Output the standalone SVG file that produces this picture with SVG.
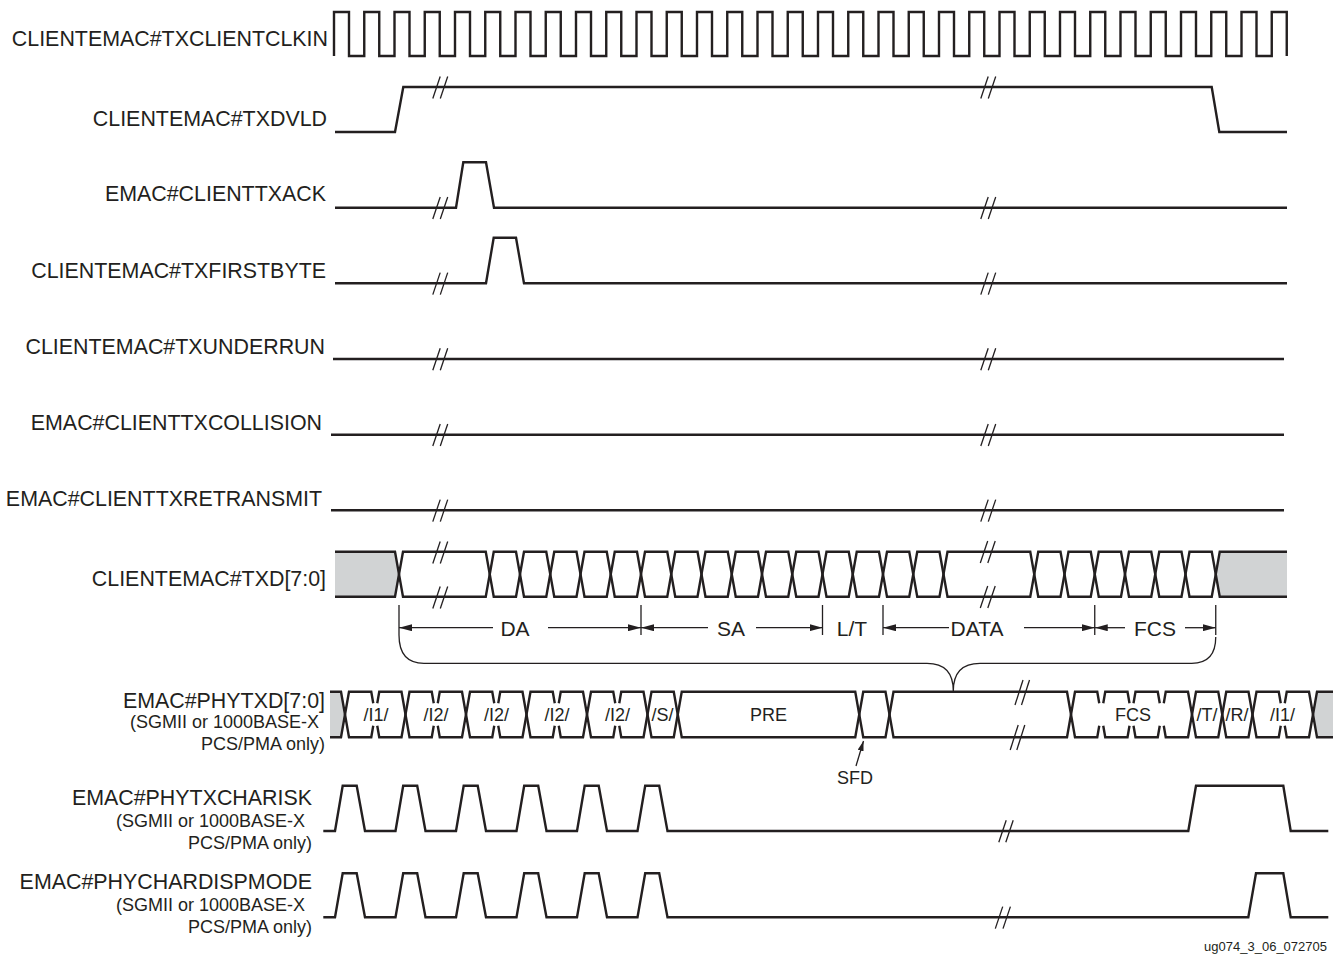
<svg xmlns="http://www.w3.org/2000/svg" width="1335" height="960" viewBox="0 0 1335 960">
<style>
.w{fill:none;stroke:#231f20;stroke-width:2.4}
.brk{fill:none;stroke:#231f20;stroke-width:1.3}
.thin{fill:none;stroke:#231f20;stroke-width:1.3}
.gray{fill:#d1d3d4;stroke:none}
.lbl{font-family:"Liberation Sans",Arial,sans-serif;font-size:21.4px;fill:#231f20;text-anchor:end}
.sub{font-family:"Liberation Sans",Arial,sans-serif;font-size:18px;fill:#231f20;text-anchor:end}
.cell{font-family:"Liberation Sans",Arial,sans-serif;font-size:18px;fill:#231f20;text-anchor:middle}
.dim{font-family:"Liberation Sans",Arial,sans-serif;font-size:21px;fill:#231f20;text-anchor:middle}
.foot{font-family:"Liberation Sans",Arial,sans-serif;font-size:13px;fill:#231f20;text-anchor:end}
</style>
<defs>
<marker id="ah" viewBox="0 0 13 7" refX="13" refY="3.5" markerWidth="13" markerHeight="7" markerUnits="userSpaceOnUse" orient="auto"><path d="M0,0 L13,3.5 L0,7 z" fill="#231f20"/></marker>
<marker id="ahs" viewBox="0 0 10 6" refX="10" refY="3" markerWidth="10" markerHeight="6" markerUnits="userSpaceOnUse" orient="auto"><path d="M0,0 L10,3 L0,6 z" fill="#231f20"/></marker>
<path id="sl" d="M-3.7,11 L3.7,-11"/>
<path id="slL" d="M-4,12.5 L4,-12.5"/>
</defs>

<g id="clk">
<text class="lbl" x="328" y="45.5">CLIENTEMAC#TXCLIENTCLKIN</text>
<path class="w" d="M334,56 V12 H349 V56 H364.25 V12 H379.25 V56 H394.5 V12 H409.5 V56 H424.75 V12 H439.75 V56 H455 V12 H470 V56 H485.25 V12 H500.25 V56 H515.5 V12 H530.5 V56 H545.75 V12 H560.75 V56 H576 V12 H591 V56 H606.25 V12 H621.25 V56 H636.5 V12 H651.5 V56 H666.75 V12 H681.75 V56 H697 V12 H712 V56 H727.25 V12 H742.25 V56 H757.5 V12 H772.5 V56 H787.75 V12 H802.75 V56 H818 V12 H833 V56 H848.25 V12 H863.25 V56 H878.5 V12 H893.5 V56 H908.75 V12 H923.75 V56 H939 V12 H954 V56 H969.25 V12 H984.25 V56 H999.5 V12 H1014.5 V56 H1029.75 V12 H1044.75 V56 H1060 V12 H1075 V56 H1090.25 V12 H1105.25 V56 H1120.5 V12 H1135.5 V56 H1150.75 V12 H1165.75 V56 H1181 V12 H1196 V56 H1211.25 V12 H1226.25 V56 H1241.5 V12 H1256.5 V56 H1271.75 V12 H1286.75 V56"/>
</g>

<g id="txdvld">
<text class="lbl" x="327" y="125.5">CLIENTEMAC#TXDVLD</text>
<path class="w" d="M335,132 H395 L403.3,87 H1211.7 L1219.3,132 H1287"/>
<g class="brk"><use href="#sl" x="436.5" y="87.5"/><use href="#sl" x="444" y="87.5"/><use href="#sl" x="984.5" y="87.5"/><use href="#sl" x="992" y="87.5"/></g>
</g>

<g id="txack">
<text class="lbl" x="326" y="200.5">EMAC#CLIENTTXACK</text>
<path class="w" d="M335,207.7 H456 L463.3,162.3 H486 L494,207.7 H1287"/>
<g class="brk"><use href="#sl" x="436.5" y="208"/><use href="#sl" x="444" y="208"/><use href="#sl" x="984.5" y="208"/><use href="#sl" x="992" y="208"/></g>
</g>

<g id="txfirstbyte">
<text class="lbl" x="326" y="277.5">CLIENTEMAC#TXFIRSTBYTE</text>
<path class="w" d="M335,283.3 H486 L493.7,237.7 H516 L524,283.3 H1287"/>
<g class="brk"><use href="#sl" x="436.5" y="283.6"/><use href="#sl" x="444" y="283.6"/><use href="#sl" x="984.5" y="283.6"/><use href="#sl" x="992" y="283.6"/></g>
</g>

<g id="txunderrun">
<text class="lbl" x="325" y="353.5">CLIENTEMAC#TXUNDERRUN</text>
<path class="w" d="M333,359 H1284"/>
<g class="brk"><use href="#sl" x="436.5" y="359.3"/><use href="#sl" x="444" y="359.3"/><use href="#sl" x="984.5" y="359.3"/><use href="#sl" x="992" y="359.3"/></g>
</g>

<g id="txcollision">
<text class="lbl" x="322" y="430">EMAC#CLIENTTXCOLLISION</text>
<path class="w" d="M331,434.7 H1284"/>
<g class="brk"><use href="#sl" x="436.5" y="435"/><use href="#sl" x="444" y="435"/><use href="#sl" x="984.5" y="435"/><use href="#sl" x="992" y="435"/></g>
</g>

<g id="txretransmit">
<text class="lbl" x="322" y="506">EMAC#CLIENTTXRETRANSMIT</text>
<path class="w" d="M331,510.3 H1284"/>
<g class="brk"><use href="#sl" x="436.5" y="510.6"/><use href="#sl" x="444" y="510.6"/><use href="#sl" x="984.5" y="510.6"/><use href="#sl" x="992" y="510.6"/></g>
</g>

<g id="txd">
<text class="lbl" x="326" y="585.5">CLIENTEMAC#TXD[7:0]</text>
<polygon class="gray" points="335,551.7 395,551.7 399,574.2 395,596.7 335,596.7"/>
<polygon class="gray" points="1287,551.7 1219.75,551.7 1215.75,574.2 1219.75,596.7 1287,596.7"/>
<path class="w" d="M335,551.7 H395 L403,596.7 H485.75 L493.75,551.7 H516 L524,596.7 H546.25 L554.25,551.7 H576.5 L584.5,596.7 H606.75 L614.75,551.7 H637 L645,596.7 H667.25 L675.25,551.7 H697.5 L705.5,596.7 H727.75 L735.75,551.7 H758 L766,596.7 H788.25 L796.25,551.7 H818.5 L826.5,596.7 H848.75 L856.75,551.7 H879 L887,596.7 H909.25 L917.25,551.7 H939.5 L947.5,596.7 H1030.25 L1038.25,551.7 H1060.5 L1068.5,596.7 H1090.75 L1098.75,551.7 H1121 L1129,596.7 H1151.25 L1159.25,551.7 H1181.5 L1189.5,596.7 H1211.75 L1219.75,551.7 H1287"/>
<path class="w" d="M335,596.7 H395 L403,551.7 H485.75 L493.75,596.7 H516 L524,551.7 H546.25 L554.25,596.7 H576.5 L584.5,551.7 H606.75 L614.75,596.7 H637 L645,551.7 H667.25 L675.25,596.7 H697.5 L705.5,551.7 H727.75 L735.75,596.7 H758 L766,551.7 H788.25 L796.25,596.7 H818.5 L826.5,551.7 H848.75 L856.75,596.7 H879 L887,551.7 H909.25 L917.25,596.7 H939.5 L947.5,551.7 H1030.25 L1038.25,596.7 H1060.5 L1068.5,551.7 H1090.75 L1098.75,596.7 H1121 L1129,551.7 H1151.25 L1159.25,596.7 H1181.5 L1189.5,551.7 H1211.75 L1219.75,596.7 H1287"/>
<g class="brk"><use href="#sl" x="436.5" y="552.5"/><use href="#sl" x="444" y="552.5"/><use href="#sl" x="436.5" y="597.5"/><use href="#sl" x="444" y="597.5"/><use href="#sl" x="984" y="552"/><use href="#sl" x="991.5" y="552"/><use href="#sl" x="984" y="597"/><use href="#sl" x="991.5" y="597"/></g>
</g>

<g id="phytxd">
<text class="lbl" x="325" y="708">EMAC#PHYTXD[7:0]</text>
<text class="sub" x="319" y="728">(SGMII or 1000BASE-X</text>
<text class="sub" x="325" y="750">PCS/PMA only)</text>
<polygon class="gray" points="330,691.7 341,691.7 345,714.5 341,737.3 330,737.3"/>
<polygon class="gray" points="1333,691.7 1317,691.7 1313,714.5 1317,737.3 1333,737.3"/>
<path class="w" d="M330,691.7 H341 L349,737.3 H371.25 L373.25,725.8 M377.25,725.8 L379.25,737.3 H401.5 L409.5,691.7 H431.75 L433.75,703.2 M437.75,703.2 L439.75,691.7 H462 L470,737.3 H492.25 L494.25,725.8 M498.25,725.8 L500.25,737.3 H522.5 L530.5,691.7 H552.75 L554.75,703.2 M558.75,703.2 L560.75,691.7 H583 L591,737.3 H613.25 L615.25,725.8 M619.25,725.8 L621.25,737.3 H643.5 L651.5,691.7 H673.75 L681.75,737.3 H855.25 L863.25,691.7 H885.5 L893.5,737.3 H1067 L1075,691.7 H1097.25 L1099.25,703.2 M1103.25,703.2 L1105.25,691.7 H1127.5 L1129.5,703.2 M1133.5,703.2 L1135.5,691.7 H1157.75 L1159.75,703.2 M1163.75,703.2 L1165.75,691.7 H1188 L1196,737.3 H1218.25 L1226.25,691.7 H1248.5 L1256.5,737.3 H1278.75 L1280.75,725.8 M1284.75,725.8 L1286.75,737.3 H1309 L1317,691.7 H1333"/>
<path class="w" d="M330,737.3 H341 L349,691.7 H371.25 L373.25,703.2 M377.25,703.2 L379.25,691.7 H401.5 L409.5,737.3 H431.75 L433.75,725.8 M437.75,725.8 L439.75,737.3 H462 L470,691.7 H492.25 L494.25,703.2 M498.25,703.2 L500.25,691.7 H522.5 L530.5,737.3 H552.75 L554.75,725.8 M558.75,725.8 L560.75,737.3 H583 L591,691.7 H613.25 L615.25,703.2 M619.25,703.2 L621.25,691.7 H643.5 L651.5,737.3 H673.75 L681.75,691.7 H855.25 L863.25,737.3 H885.5 L893.5,691.7 H1067 L1075,737.3 H1097.25 L1099.25,725.8 M1103.25,725.8 L1105.25,737.3 H1127.5 L1129.5,725.8 M1133.5,725.8 L1135.5,737.3 H1157.75 L1159.75,725.8 M1163.75,725.8 L1165.75,737.3 H1188 L1196,691.7 H1218.25 L1226.25,737.3 H1248.5 L1256.5,691.7 H1278.75 L1280.75,703.2 M1284.75,703.2 L1286.75,691.7 H1309 L1317,737.3 H1333"/>
<g class="brk"><use href="#slL" x="1019" y="692.5"/><use href="#slL" x="1025.5" y="692.5"/><use href="#slL" x="1014.2" y="737.5"/><use href="#slL" x="1020.8" y="737.5"/></g>
<text class="cell" x="376" y="721">/I1/</text>
<text class="cell" x="436" y="721">/I2/</text>
<text class="cell" x="496.5" y="721">/I2/</text>
<text class="cell" x="557" y="721">/I2/</text>
<text class="cell" x="617.5" y="721">/I2/</text>
<text class="cell" x="662.6" y="721">/S/</text>
<text class="cell" x="768.5" y="721">PRE</text>
<text class="cell" x="1133" y="721">FCS</text>
<text class="cell" x="1207" y="721">/T/</text>
<text class="cell" x="1237" y="721">/R/</text>
<text class="cell" x="1282.5" y="721">/I1/</text>
<text class="cell" x="855" y="784">SFD</text>
</g>

<g id="phytxcharisk">
<text class="lbl" x="312" y="805">EMAC#PHYTXCHARISK</text>
<text class="sub" x="305" y="827">(SGMII or 1000BASE-X</text>
<text class="sub" x="312" y="849">PCS/PMA only)</text>
<path class="w" d="M323.3,831 H335 L342.7,785.7 H356.7 L365,831 H395.5 L403.2,785.7 H417.2 L425.5,831 H456 L463.7,785.7 H477.7 L486,831 H516.5 L524.2,785.7 H538.2 L546.5,831 H577 L584.7,785.7 H598.7 L607,831 H637.5 L645.2,785.7 H659.2 L667.5,831 H1188.3 L1196,785.7 H1283.3 L1290.7,831 H1328.3"/>
<g class="brk"><use href="#sl" x="1002.5" y="831.3"/><use href="#sl" x="1009.5" y="831.3"/></g>
</g>

<g id="phychardispmode">
<text class="lbl" x="312" y="889">EMAC#PHYCHARDISPMODE</text>
<text class="sub" x="305" y="911">(SGMII or 1000BASE-X</text>
<text class="sub" x="312" y="933">PCS/PMA only)</text>
<path class="w" d="M323.3,917.3 H335 L342.7,873.3 H356.7 L365,917.3 H395.5 L403.2,873.3 H417.2 L425.5,917.3 H456 L463.7,873.3 H477.7 L486,917.3 H516.5 L524.2,873.3 H538.2 L546.5,917.3 H577 L584.7,873.3 H598.7 L607,917.3 H637.5 L645.2,873.3 H659.2 L667.5,917.3 H1248.3 L1256,873.3 H1283.3 L1290.7,917.3 H1328.3"/>
<g class="brk"><use href="#sl" x="999" y="917.6"/><use href="#sl" x="1006.7" y="917.6"/></g>
</g>

<g id="connectors">
<path class="thin" d="M399,605 V635 M641,605 V635 M822.5,605 V635 M883,605 V635 M1094.75,605 V635 M1215.75,605 V635"/>
<path class="thin" marker-end="url(#ah)" d="M493,627.7 H399"/>
<path class="thin" marker-end="url(#ah)" d="M548,627.7 H641"/>
<path class="thin" marker-end="url(#ah)" d="M708,627.7 H641"/>
<path class="thin" marker-end="url(#ah)" d="M756,627.7 H822.5"/>
<path class="thin" marker-end="url(#ah)" d="M949,627.7 H883"/>
<path class="thin" marker-end="url(#ah)" d="M1024,627.7 H1094.75"/>
<path class="thin" marker-end="url(#ah)" d="M1125,627.7 H1094.75"/>
<path class="thin" marker-end="url(#ah)" d="M1185,627.7 H1215.75"/>
<path class="thin" d="M399,635 Q399,663.3 424,663.3 H927 Q953.3,663.3 953.3,691 Q953.3,663.3 980,663.3 H1191.7 Q1215.75,663.3 1215.75,637"/>
<path class="thin" marker-end="url(#ahs)" d="M856,766 L863.5,741"/>
</g>

<g id="dimlabels">
<text class="dim" x="515" y="635.5">DA</text>
<text class="dim" x="731" y="635.5">SA</text>
<text class="dim" x="852" y="635.5">L/T</text>
<text class="dim" x="977" y="635.5">DATA</text>
<text class="dim" x="1155" y="635.5">FCS</text>
</g>

<text class="foot" x="1327" y="951">ug074_3_06_072705</text>
</svg>
